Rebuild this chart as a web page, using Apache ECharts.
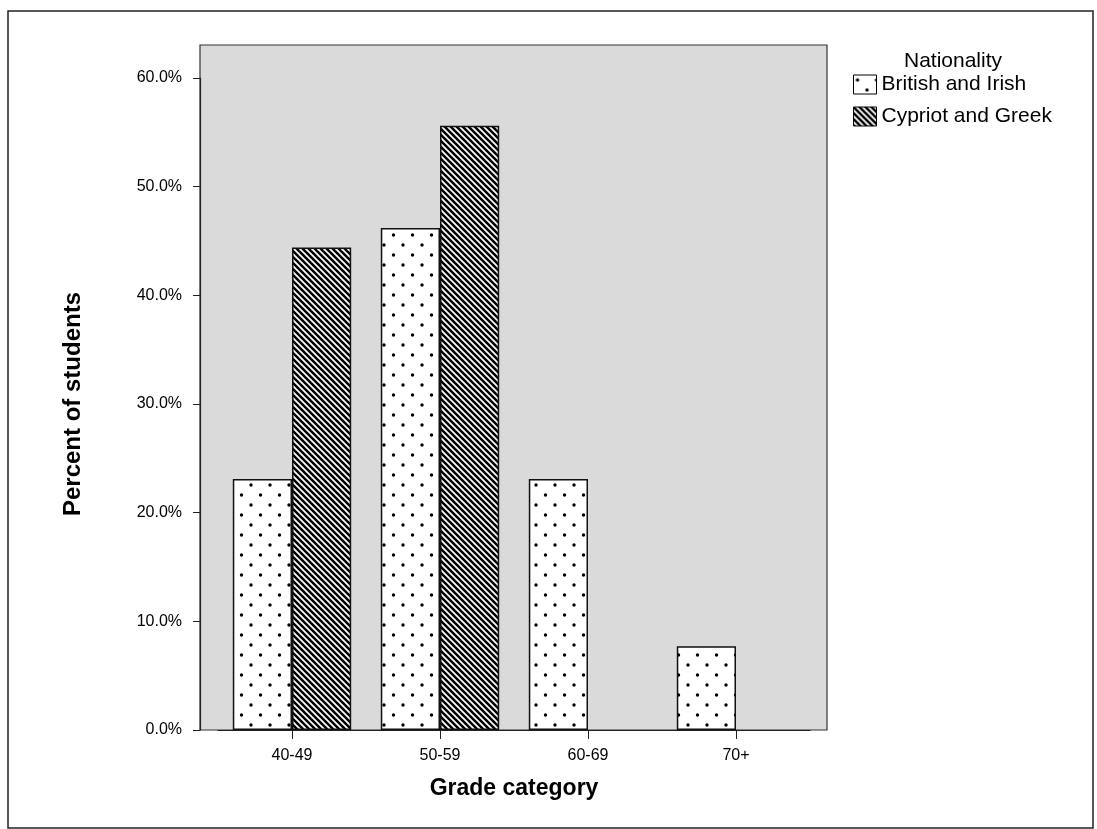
<!DOCTYPE html>
<html>
<head>
<meta charset="utf-8">
<script src="https://cdn.jsdelivr.net/npm/echarts@6/dist/echarts.min.js"></script>
<style>
  html, body { margin: 0; padding: 0; background: #fff; }
</style>
</head>
<body>
<div id="chart" style="width: 1097px; height: 829px;"></div>
<script>
// data
const grades = ['40-49', '50-59', '60-69', '70+']
const britishIrish = [23.1, 46.2, 23.1, 7.7]
const cypriotGreek = [44.4, 55.6, 0, 0]
const yTicks = [0, 10, 20, 30, 40, 50, 60]

const FONT = '"Liberation Sans", Arial, sans-serif'

// dotted fill: white with staggered black dots
function dotPattern() {
  const c = document.createElement('canvas')
  c.width = 19
  c.height = 20
  const ctx = c.getContext('2d')
  ctx.fillStyle = '#fff'
  ctx.fillRect(0, 0, 19, 20)
  ctx.fillStyle = '#000'
  ;[[4, 5], [13.5, 15]].forEach(([x, y]) => {
    ctx.beginPath()
    ctx.arc(x, y, 1.7, 0, Math.PI * 2)
    ctx.fill()
  })
  return c
}

// diagonal hatching "\\\"
function stripePattern() {
  const c = document.createElement('canvas')
  c.width = 6
  c.height = 6
  const ctx = c.getContext('2d')
  ctx.fillStyle = '#fff'
  ctx.fillRect(0, 0, 6, 6)
  ctx.strokeStyle = '#000'
  ctx.lineWidth = 2.5
  for (const k of [-6, 0, 6]) {
    ctx.beginPath()
    ctx.moveTo(k - 1, -1)
    ctx.lineTo(k + 7, 7)
    ctx.stroke()
  }
  return c
}

const dotFill = { image: dotPattern(), repeat: 'repeat' }
const stripeFill = { image: stripePattern(), repeat: 'repeat' }

const chart = echarts.init(document.getElementById('chart'), null, { renderer: 'canvas' })

chart.setOption({
  animation: false,
  textStyle: { fontFamily: FONT, color: '#000' },
  graphic: [
    {
      type: 'rect',
      shape: { x: 8, y: 11, width: 1085, height: 817 },
      style: { fill: 'none', stroke: '#222', lineWidth: 1.5 },
      z: -10
    }
  ],
  title: {
    text: 'Nationality',
    left: 953,
    top: 51,
    padding: 0,
    textAlign: 'center',
    textStyle: { fontFamily: FONT, fontSize: 21, fontWeight: 'normal', color: '#000' }
  },
  legend: {
    orient: 'vertical',
    left: 853,
    top: 74,
    padding: 0,
    itemWidth: 23,
    itemHeight: 19,
    itemGap: 11,
    icon: 'rect',
    itemStyle: { borderColor: '#000', borderWidth: 1 },
    textStyle: { fontFamily: FONT, fontSize: 21, lineHeight: 21, color: '#000' },
    data: ['British and Irish', 'Cypriot and Greek']
  },
  grid: [
    // grey plot background with frame
    { left: 200, right: 270, top: 45, bottom: 99, show: true, backgroundColor: '#dadada', borderColor: '#333', borderWidth: 1.2, z: 0 },
    // bars
    { left: 218, right: 287, top: 78, bottom: 99 }
  ],
  xAxis: [
    { gridIndex: 0, type: 'value', show: false, min: 0, max: 1 },
    {
      gridIndex: 1,
      type: 'category',
      data: grades,
      axisLine: { show: true, lineStyle: { color: '#222', width: 1.2 } },
      axisTick: { show: true, alignWithLabel: true, length: 9, lineStyle: { color: '#222' } },
      axisLabel: { fontFamily: FONT, fontSize: 16, color: '#000', margin: 18 },
      name: 'Grade category',
      nameLocation: 'middle',
      nameGap: 47,
      nameTextStyle: { fontFamily: FONT, fontSize: 23, fontWeight: 'bold', color: '#000' }
    }
  ],
  yAxis: [
    { gridIndex: 0, type: 'value', show: false, min: 0, max: 1 },
    {
      gridIndex: 1,
      type: 'value',
      min: yTicks[0],
      max: yTicks[yTicks.length - 1],
      interval: 10,
      offset: 18,
      splitLine: { show: false },
      axisLine: { show: true, lineStyle: { color: '#222', width: 1.2 } },
      axisTick: { show: true, length: 7, lineStyle: { color: '#222' } },
      axisLabel: { fontFamily: FONT, fontSize: 16, color: '#000', margin: 18, formatter: v => v.toFixed(1) + '%' },
      name: 'Percent of students',
      nameLocation: 'middle',
      nameGap: 115,
      nameTextStyle: { fontFamily: FONT, fontSize: 24, fontWeight: 'bold', color: '#000' }
    }
  ],
  series: [
    {
      name: 'British and Irish',
      type: 'bar',
      xAxisIndex: 1,
      yAxisIndex: 1,
      data: britishIrish,
      barGap: '0%',
      barCategoryGap: '20%',
      itemStyle: { color: dotFill, borderColor: '#111', borderWidth: 1.5 }
    },
    {
      name: 'Cypriot and Greek',
      type: 'bar',
      xAxisIndex: 1,
      yAxisIndex: 1,
      data: cypriotGreek.map(v => (v === 0 ? null : v)),
      barGap: '0%',
      barCategoryGap: '20%',
      itemStyle: { color: stripeFill, borderColor: '#111', borderWidth: 1.5 }
    }
  ]
})
</script>
</body>
</html>
